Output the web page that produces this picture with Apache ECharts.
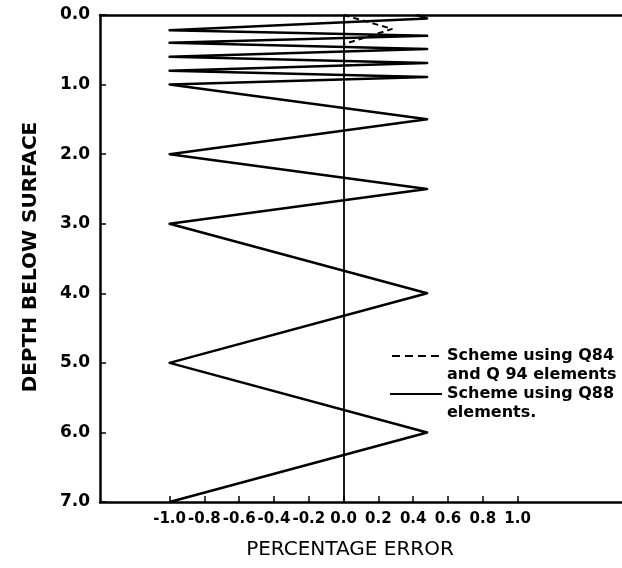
<!DOCTYPE html>
<html>
<head>
<meta charset="utf-8">
<script src="https://cdn.jsdelivr.net/npm/echarts@6/dist/echarts.min.js"></script>
<style>
html,body{margin:0;padding:0;background:#fff;}
#chart{width:622px;height:568px;}
</style>
</head>
<body>
<div id="chart"></div>
<script>
// ---- data ----
const depthTicks = [0, 1, 2, 3, 4, 5, 6, 7];
const depthLabels = ['0.0', '1.0', '2.0', '3.0', '4.0', '5.0', '6.0', '7.0'];
const errorTicks = [-1.0, -0.8, -0.6, -0.4, -0.2, 0.0, 0.2, 0.4, 0.6, 0.8, 1.0];
const errorLabels = ['-1.0', '-0.8', '-0.6', '-0.4', '-0.2', '0.0', '0.2', '0.4', '0.6', '0.8', '1.0'];

// Scheme using Q88 elements (solid)
const q88Error = [0.42, 0.48, -1.0, 0.48, -1.0, 0.48, -1.0, 0.48, -1.0, 0.48, -1.0, 0.48, -1.0, 0.48, -1.0, 0.48, -1.0, 0.48, -1.0];
const q88Depth = [0.0, 0.05, 0.22, 0.30, 0.40, 0.49, 0.60, 0.69, 0.80, 0.89, 1.0, 1.5, 2.0, 2.5, 3.0, 4.0, 5.0, 6.0, 7.0];

// Scheme using Q84 and Q94 elements (dashed)
const q84Error = [0.0, 0.28, 0.0];
const q84Depth = [0.0, 0.20, 0.42];

const legendTexts = ['Scheme using Q84', 'and Q 94 elements', 'Scheme using Q88', 'elements.'];

const zip = (xs, ys) => xs.map((x, i) => [x, ys[i]]);

const chart = echarts.init(document.getElementById('chart'));
const FONT = 'DejaVu Sans';
const LFONT = 'bold 16px "DejaVu Sans"';
const option = {
  animation: false,
  backgroundColor: '#fff',
  grid: { left: 100, top: 15, width: 528, height: 487, containLabel: false },
  xAxis: [{
    type: 'value', min: -1.4, max: 1.6, interval: 0.2, position: 'bottom',
    axisLine: { show: true, onZero: false, lineStyle: { color: '#000', width: 2.5 } },
    axisTick: { show: true, inside: true, length: 6, customValues: errorTicks, lineStyle: { color: '#000', width: 1.5 } },
    axisLabel: {
      customValues: errorTicks, margin: 10, color: '#000', fontFamily: FONT, fontWeight: 'bold', fontSize: 15,
      formatter: v => { const i = errorTicks.findIndex(t => Math.abs(t - v) < 1e-6); return i >= 0 ? errorLabels[i] : ''; }
    },
    splitLine: { show: false }
  }, {
    type: 'value', min: -1.4, max: 1.6, position: 'top',
    axisLine: { show: true, onZero: false, lineStyle: { color: '#000', width: 2.5 } },
    axisTick: { show: false }, axisLabel: { show: false }, splitLine: { show: false }
  }],
  yAxis: [{
    type: 'value', inverse: true, min: 0, max: 7, interval: 1,
    axisLine: { show: true, onZero: false, lineStyle: { color: '#000', width: 2.5 } },
    axisTick: { show: true, inside: true, length: 6, lineStyle: { color: '#000', width: 1.5 } },
    axisLabel: {
      margin: 10, color: '#000', fontFamily: FONT, fontWeight: 'bold', fontSize: 17,
      formatter: v => { const i = depthTicks.indexOf(v); return i >= 0 ? depthLabels[i] : ''; }
    },
    splitLine: { show: false }
  }],
  series: [{
    type: 'line', name: 'Q88', data: zip(q88Error, q88Depth), showSymbol: false, symbol: 'none',
    lineStyle: { color: '#000', width: 2.5, join: 'round' }, z: 3,
    markLine: {
      silent: true, symbol: ['none', 'none'], label: { show: false },
      lineStyle: { color: '#000', width: 1.8, type: 'solid' },
      data: [{ xAxis: 0 }]
    }
  }, {
    type: 'line', name: 'Q84', data: zip(q84Error, q84Depth), showSymbol: false, symbol: 'none',
    lineStyle: { color: '#000', width: 2, type: [6, 4] }, z: 2
  }],
  graphic: [
    { type: 'text', x: 350, y: 550, style: { text: 'PERCENTAGE ERROR', font: '20px "DejaVu Sans"', fill: '#000', align: 'center', verticalAlign: 'middle' } },
    { type: 'text', x: 31, y: 257, rotation: Math.PI / 2, style: { text: 'DEPTH BELOW SURFACE', font: 'bold 20px "DejaVu Sans"', fill: '#000', align: 'center', verticalAlign: 'middle' } },
    { type: 'line', shape: { x1: 392, y1: 356, x2: 442, y2: 356 }, style: { stroke: '#000', lineWidth: 1.8, lineDash: [8, 5] } },
    { type: 'text', x: 447, y: 356, style: { text: legendTexts[0], font: LFONT, fill: '#000', verticalAlign: 'middle' } },
    { type: 'text', x: 447, y: 375, style: { text: legendTexts[1], font: LFONT, fill: '#000', verticalAlign: 'middle' } },
    { type: 'line', shape: { x1: 390, y1: 394, x2: 442, y2: 394 }, style: { stroke: '#000', lineWidth: 1.8 } },
    { type: 'text', x: 447, y: 394, style: { text: legendTexts[2], font: LFONT, fill: '#000', verticalAlign: 'middle' } },
    { type: 'text', x: 447, y: 413, style: { text: legendTexts[3], font: LFONT, fill: '#000', verticalAlign: 'middle' } }
  ]
};
chart.setOption(option);
</script>
</body>
</html>
